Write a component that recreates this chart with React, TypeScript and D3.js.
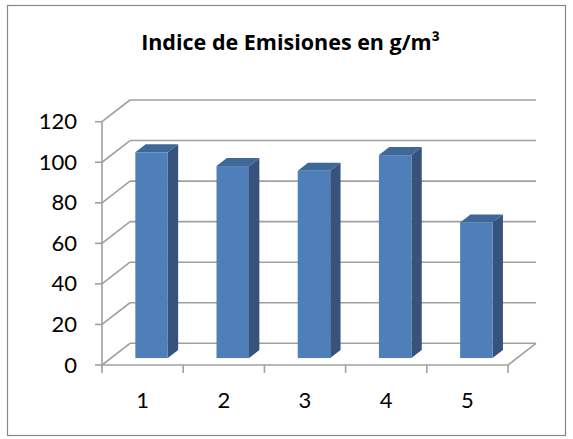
import React from "react";
import * as d3 from "d3";

const categories = ["1", "2", "3", "4", "5"];
const values = [101.5, 94.7, 92.4, 100.1, 66.9];
const yTicks = [0, 20, 40, 60, 80, 100, 120];
const title = "Indice de Emisiones en g/m³";

const W = 573;
const H = 439;
const DX = 28; // full depth offset
const DY = -21.7;
const D0 = 0.32; // bar front depth fraction
const D1 = 0.69; // bar back depth fraction

export default function App() {
  const x = d3.scaleBand<string>().domain(categories).range([102, 508]).paddingInner(0.6).paddingOuter(0.3);
  const y = d3.scaleLinear().domain([0, 120]).range([365, 121.7]);
  const step = x.step();
  const boundaries = d3.range(categories.length + 1).map((i) => 102 + i * step);
  const gridColor = "#a0a0a0";
  const font = "Lato, 'Open Sans', sans-serif";
  const x0 = 102, x1 = 508;

  return (
    <svg width={W} height={H} style={{ position: "absolute", left: 0, top: 0, background: "#fff" }}>
      <rect x={7.5} y={5.5} width={558} height={430} fill="#fff" stroke="#888" strokeWidth={1.2} />
      <text x={290.5} y={50} textAnchor="middle" fontFamily="'Open Sans', sans-serif" fontWeight="bold" fontSize={21.5} fill="#000">
        {title}
      </text>
      {/* back wall gridlines and side diagonals */}
      {yTicks.map((t) => (
        <g key={"g" + t}>
          <line x1={x0} y1={y(t)} x2={x0 + DX} y2={y(t) + DY} stroke={gridColor} strokeWidth={1.6} />
          <line x1={x0 + DX} y1={y(t) + DY} x2={x1 + DX} y2={y(t) + DY} stroke={gridColor} strokeWidth={1.6} />
        </g>
      ))}
      {/* floor */}
      <line x1={x0} y1={y(0)} x2={x1} y2={y(0)} stroke={gridColor} strokeWidth={1.6} />
      <line x1={x1} y1={y(0)} x2={x1 + DX} y2={y(0) + DY} stroke={gridColor} strokeWidth={1.6} />
      {/* y axis */}
      <line x1={x0} y1={y(120)} x2={x0} y2={y(0) + 2} stroke={gridColor} strokeWidth={1.6} />
      {yTicks.map((t) => (
        <g key={"t" + t}>
          <line x1={x0 - 7} y1={y(t)} x2={x0} y2={y(t)} stroke={gridColor} strokeWidth={1.6} />
          <text x={77} y={y(t) + 2} textAnchor="end" dominantBaseline="middle" fontFamily={font} fontSize={22} fill="#000">
            {t}
          </text>
        </g>
      ))}
      {/* x ticks */}
      {boundaries.map((b, i) => (
        <line key={"xt" + i} x1={b} y1={y(0)} x2={b} y2={y(0) + 8} stroke={gridColor} strokeWidth={1.6} />
      ))}
      {categories.map((c) => (
        <text key={"xl" + c} x={(x(c) as number) + x.bandwidth() / 2} y={408} textAnchor="middle" fontFamily={font} fontSize={22} fill="#000">
          {c}
        </text>
      ))}
      {/* bars */}
      {categories.map((c, i) => {
        const bx = (x(c) as number) + DX * D0;
        const bw = x.bandwidth();
        const by0 = y(0) + DY * D0;
        const byT = y(values[i]) + DY * D0;
        const ddx = DX * (D1 - D0);
        const ddy = DY * (D1 - D0);
        const top = `M${bx},${byT} L${bx + ddx},${byT + ddy} L${bx + bw + ddx},${byT + ddy} L${bx + bw},${byT} Z`;
        const side = `M${bx + bw},${byT} L${bx + bw + ddx},${byT + ddy} L${bx + bw + ddx},${by0 + ddy} L${bx + bw},${by0} Z`;
        return (
          <g key={"b" + c}>
            <path d={side} fill="#37537c" />
            <path d={top} fill="#3f6797" />
            <rect x={bx} y={byT} width={bw} height={by0 - byT} fill="#4f7fb8" />
          </g>
        );
      })}
    </svg>
  );
}
